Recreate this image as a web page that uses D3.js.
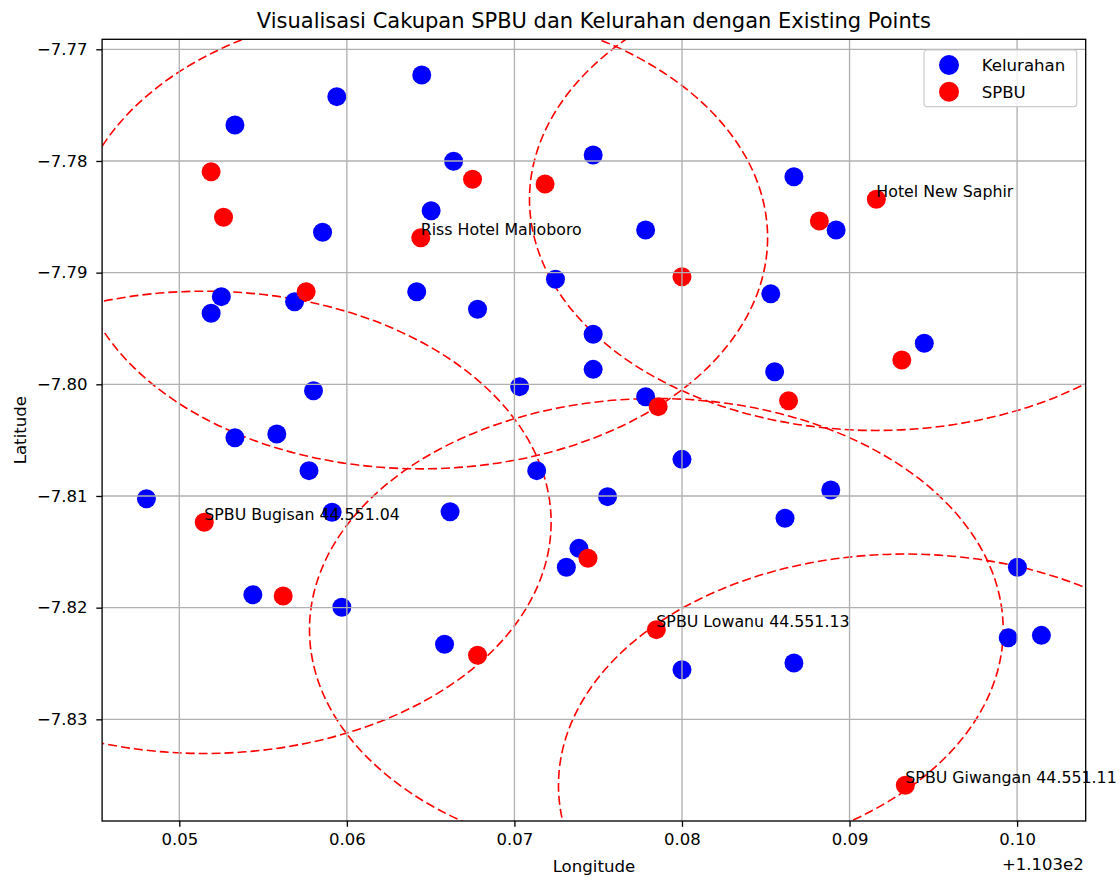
<!DOCTYPE html>
<html>
<meta charset="UTF-8" />
<script src="https://cdn.jsdelivr.net/npm/d3@7"></script>
<style>
*{margin:0; padding:0;}
body{background:#ffffff;}
text{font-family:"DejaVu Sans", sans-serif; fill:#000;}
</style>
<body>
<div id="svgcontainer"></div>
<script>
// kelurahan (blue)
var kelLon = [110.35332, 110.3594, 110.36447, 110.36637, 110.36503, 110.35855, 110.36417, 110.35251, 110.37245,
	110.3747, 110.38668, 110.37783, 110.3892, 110.3853, 110.3519, 110.35688, 110.3678, 110.35801, 110.37031,
	110.35332, 110.35582, 110.35774, 110.37133, 110.34804, 110.35912, 110.36616, 110.3747, 110.3747, 110.38553,
	110.39446, 110.37783, 110.38, 110.37556, 110.38888, 110.38615, 110.37385, 110.3731, 110.40002, 110.35439,
	110.3597, 110.36583, 110.38, 110.38668, 110.39947, 110.40145];
var kelLat = [-7.77678, -7.77424, -7.7723, -7.78003, -7.78445, -7.78639, -7.79171, -7.79215, -7.7906,
	-7.77947, -7.78141, -7.78618, -7.78618, -7.7919, -7.79364, -7.7926, -7.79328, -7.80057, -7.80021,
	-7.80478, -7.80445, -7.80773, -7.80773, -7.81024, -7.81146, -7.81141, -7.79552, -7.79866, -7.79887,
	-7.79633, -7.80111, -7.80672, -7.81006, -7.80946, -7.812, -7.81469, -7.81639, -7.81639, -7.81884,
	-7.81997, -7.82328, -7.82556, -7.82496, -7.82269, -7.82248];

// spbu (red)
var spbuLon = [110.3519, 110.35264, 110.3675, 110.37183, 110.36441, 110.35757, 110.3916, 110.3882, 110.38,
	110.35149, 110.39312, 110.38636, 110.37858, 110.37439, 110.3562, 110.3678, 110.37847, 110.39333];
var spbuLat = [-7.78096, -7.78504, -7.78164, -7.78206, -7.78687, -7.79171, -7.78343, -7.78538, -7.79036,
	-7.81236, -7.79782, -7.80147, -7.802, -7.81558, -7.81896, -7.82427, -7.82197, -7.8359];

// existing points = index into spbu
var existIdx = [4, 6, 9, 16, 17];
var existName = ["Riss Hotel Malioboro", "Hotel New Saphir", "SPBU Bugisan 44.551.04", "SPBU Lowanu 44.551.13", "SPBU Giwangan 44.551.11"];
var radius = 0.0207;

var xTicks = [110.35, 110.36, 110.37, 110.38, 110.39, 110.40];
var yTicks = [-7.77, -7.78, -7.79, -7.80, -7.81, -7.82, -7.83];

var width = 1120;
var height = 877;
var L = 102.1, R = 1085.7, T = 39.3, B = 821;

var svg = d3.select("#svgcontainer")
.append("svg")
.attr("width", width)
.attr("height", height);

var x = d3.scaleLinear().domain([110.345393, 110.404094]).range([L, R]);
var y = d3.scaleLinear().domain([-7.769105, -7.839105]).range([T, B]);

svg.append("clipPath").attr("id", "clip")
.append("rect").attr("x", L).attr("y", T).attr("width", R - L).attr("height", B - T);

var plot = svg.append("g").attr("clip-path", "url(#clip)");

// coverage circles (ellipses because of axis scale)
plot.selectAll("ellipse").data(existIdx).enter().append("ellipse")
.attr("cx", function(i){ return x(spbuLon[i]); })
.attr("cy", function(i){ return y(spbuLat[i]); })
.attr("rx", function(i){ return x(spbuLon[i] + radius) - x(spbuLon[i]); })
.attr("ry", function(i){ return y(spbuLat[i] - radius) - y(spbuLat[i]); })
.attr("fill", "none")
.style("stroke", "#ff0000")
.style("stroke-width", 1.6)
.style("stroke-dasharray", "9,4");

plot.selectAll("circle.kel").data(kelLon).enter().append("circle")
.attr("class", "kel")
.attr("cx", function(d){ return x(d); })
.attr("cy", function(d, i){ return y(kelLat[i]); })
.attr("r", 9.5)
.attr("fill", "#0000ff");

plot.selectAll("circle.spbu").data(spbuLon).enter().append("circle")
.attr("class", "spbu")
.attr("cx", function(d){ return x(d); })
.attr("cy", function(d, i){ return y(spbuLat[i]); })
.attr("r", 9.5)
.attr("fill", "#ff0000");

// grid on top of the points (like matplotlib)
svg.selectAll("line.gx").data(xTicks).enter().append("line")
.attr("x1", function(d){ return x(d); }).attr("x2", function(d){ return x(d); })
.attr("y1", T).attr("y2", B)
.style("stroke", "#b0b0b0").style("stroke-width", 1.33);
svg.selectAll("line.gy").data(yTicks).enter().append("line")
.attr("y1", function(d){ return y(d); }).attr("y2", function(d){ return y(d); })
.attr("x1", L).attr("x2", R)
.style("stroke", "#b0b0b0").style("stroke-width", 1.33);

// labels of existing points
svg.selectAll("text.ex").data(existIdx).enter().append("text")
.attr("x", function(i){ return x(spbuLon[i]); })
.attr("y", function(i){ return y(spbuLat[i]) - 2.5; })
.style("font-size", "15.8px")
.text(function(i, k){ return existName[k]; });

// axes
var xAxis = d3.axisBottom(x).tickValues(xTicks)
.tickFormat(function(d){ return (d - 110.3).toFixed(2); })
.tickSize(5.8).tickPadding(6.9);
var yAxis = d3.axisLeft(y).tickValues(yTicks)
.tickFormat(d3.format(".2f"))
.tickSize(5.8).tickPadding(8.8);

var gx = svg.append("g").attr("transform", "translate(0," + B + ")").call(xAxis);
var gy = svg.append("g").attr("transform", "translate(" + L + ",0)").call(yAxis);
[gx, gy].forEach(function(g){
	g.select(".domain").remove();
	g.selectAll(".tick line").style("stroke", "#000").style("stroke-width", 1.33);
	g.selectAll(".tick text").style("font-size", "16.5px").style("font-family", "DejaVu Sans").attr("fill", "#000");
});

svg.append("rect")
.attr("x", L).attr("y", T).attr("width", R - L).attr("height", B - T)
.attr("fill", "none").style("stroke", "#000").style("stroke-width", 1.33);

// offset text
svg.append("text").attr("x", R - 2).attr("y", 870)
.attr("text-anchor", "end").style("font-size", "16.5px").text("+1.103e2");

svg.append("text").attr("x", (L + R) / 2).attr("y", 872)
.attr("text-anchor", "middle").style("font-size", "16.6px").text("Longitude");

svg.append("text").attr("transform", "translate(25.5," + ((T + B) / 2) + ") rotate(-90)")
.attr("text-anchor", "middle").style("font-size", "16.6px").text("Latitude");

svg.append("text").attr("x", (L + R) / 2).attr("y", 28)
.attr("text-anchor", "middle").style("font-size", "21px")
.text("Visualisasi Cakupan SPBU dan Kelurahan dengan Existing Points");

// legend
var legItems = ["Kelurahan", "SPBU"];
var legColors = ["#0000ff", "#ff0000"];
var lg = svg.append("g").attr("transform", "translate(" + (R - 161.7) + "," + (T + 10.7) + ")");
lg.append("rect").attr("width", 152.7).attr("height", 56.7).attr("rx", 3)
.attr("fill", "#ffffff").attr("fill-opacity", 0.8)
.style("stroke", "#cccccc").style("stroke-width", 1.2);
legItems.forEach(function(name, i){
	lg.append("circle").attr("cx", 25).attr("cy", 15 + i * 26.7).attr("r", 10).attr("fill", legColors[i]);
	lg.append("text").attr("x", 57.7).attr("y", 15 + i * 26.7 + 6)
	.style("font-size", "16.6px").text(name);
});
</script>
</body>
</html>
